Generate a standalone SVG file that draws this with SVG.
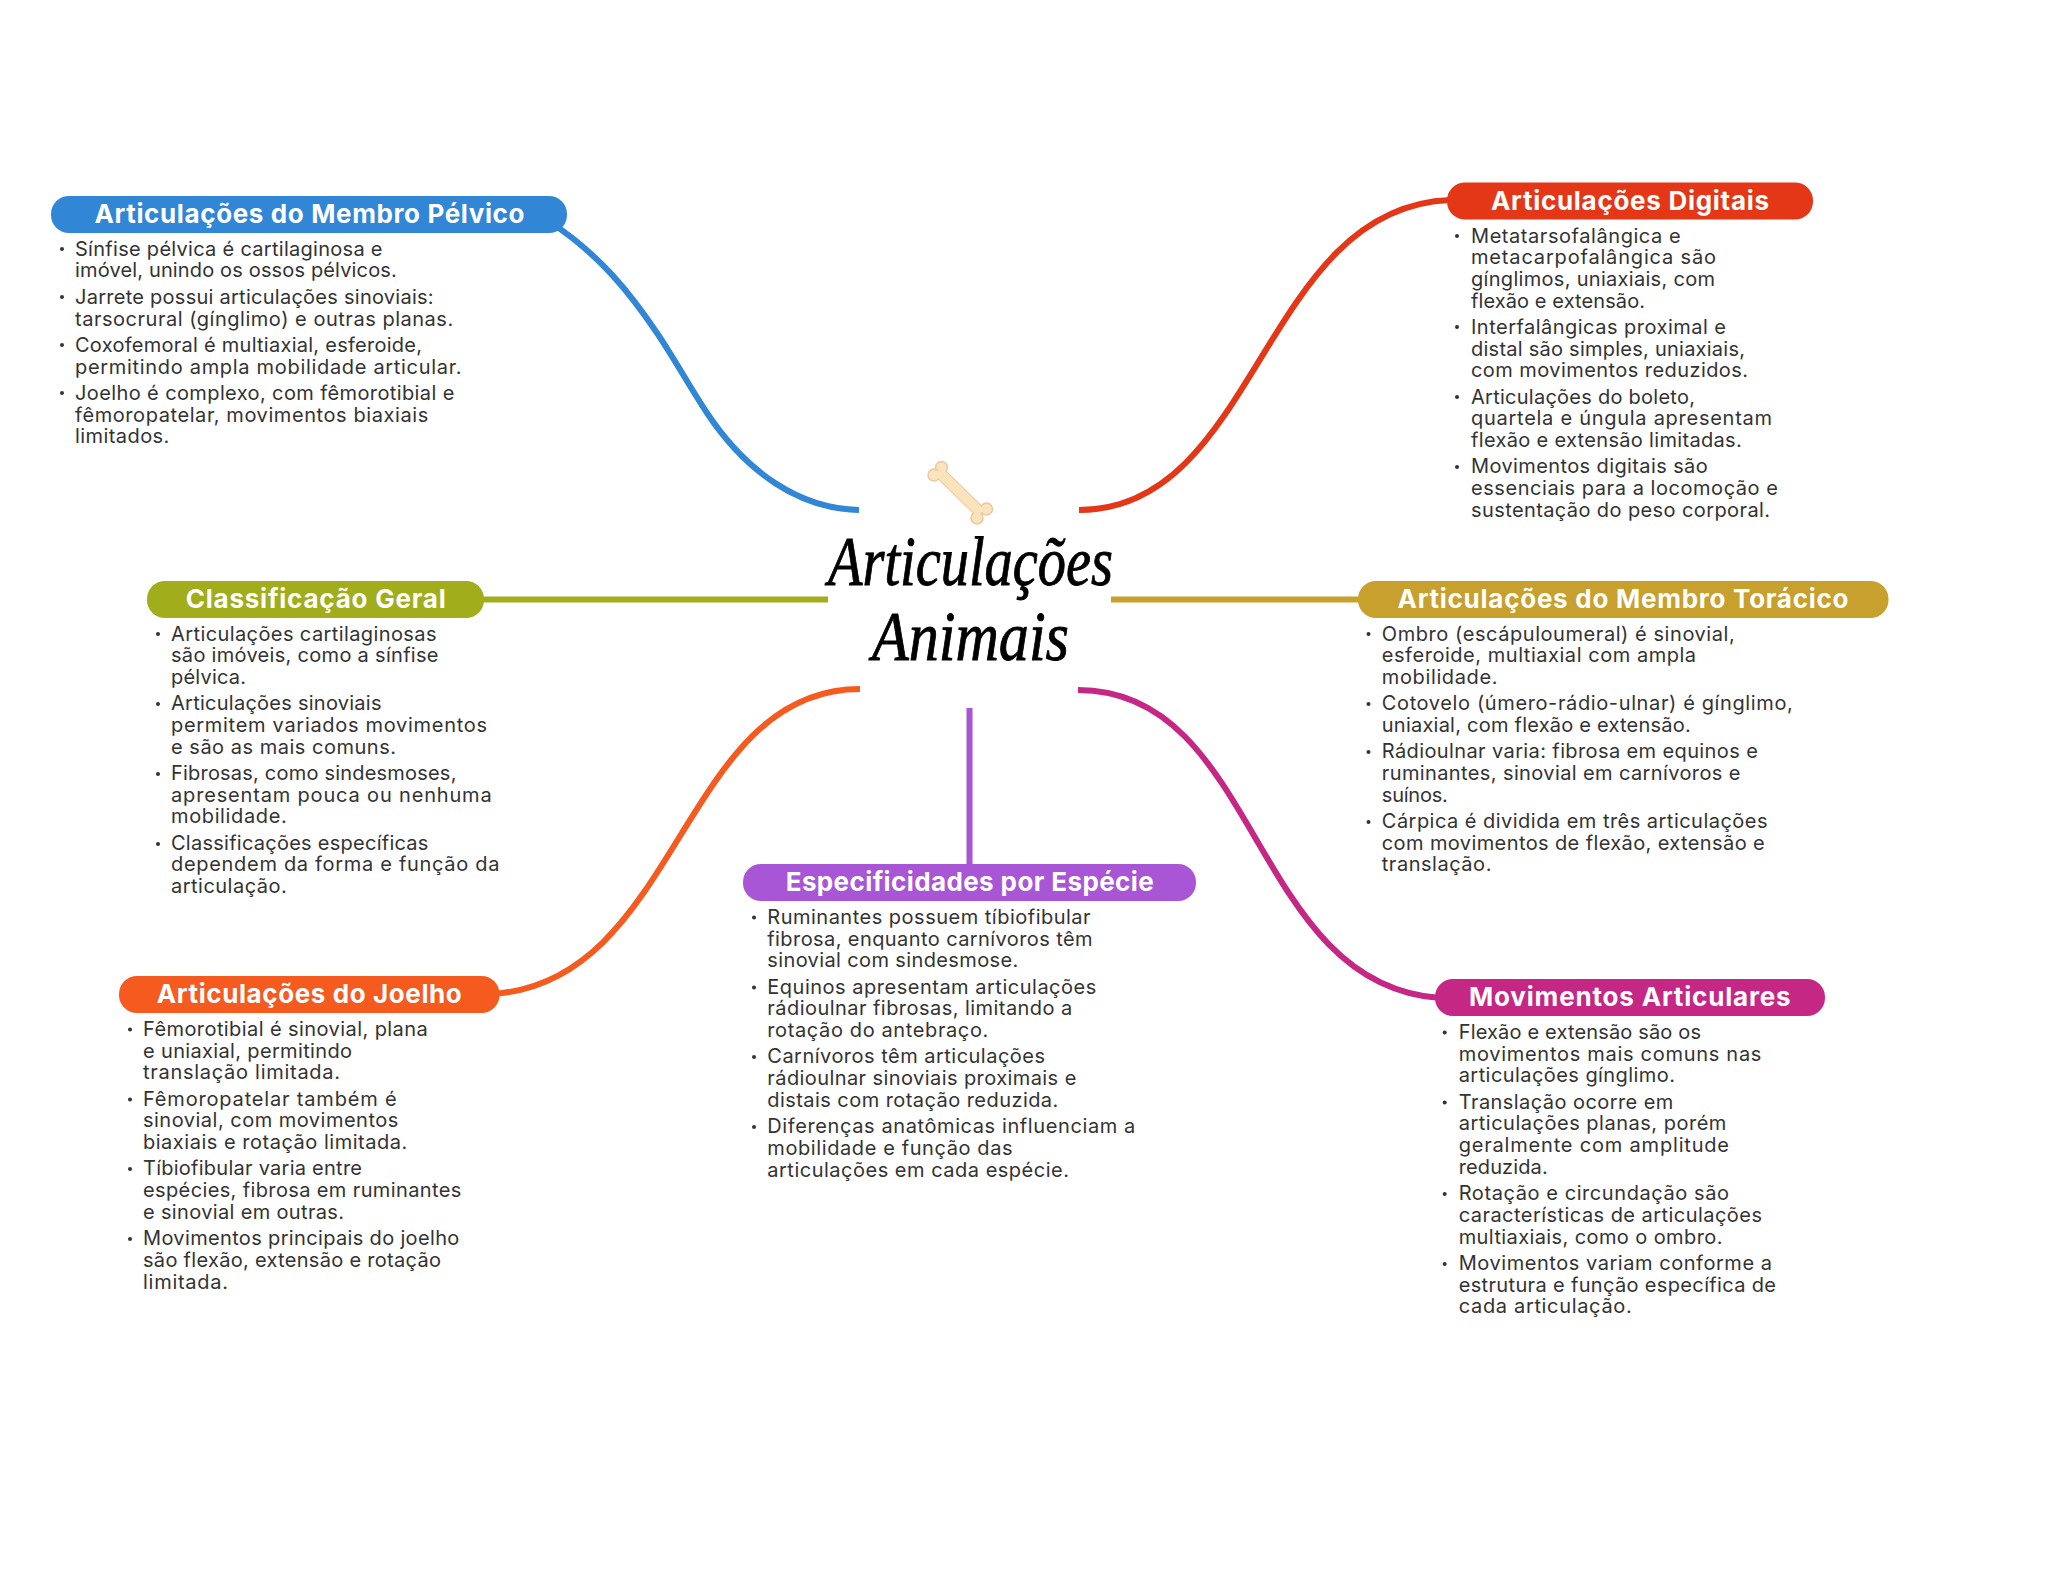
<svg xmlns="http://www.w3.org/2000/svg" width="2048" height="1569" viewBox="0 0 2048 1569">
<style>
.b{font:400 20px Inter,"Noto Sans",sans-serif;fill:#333}
.h{font:700 26px Inter,"Noto Sans",sans-serif;fill:#fff;text-anchor:middle}
.t{font:italic 400 70px "Liberation Serif",serif;fill:#000;stroke:#000;stroke-width:.9}
.c{fill:none;stroke-width:6}
.d{fill:#333}
</style>
<rect width="2048" height="1569" fill="#fff"/>
<g id="connectors">
<path class="c" stroke="#3186D6" d="M859 510C800 509 747 473 707 413C690 387.500 674 358 657 333C630 293 600 255 550 222"/>
<path class="c" stroke="#E43718" d="M1079 510C1258 510 1262 207 1450 200"/>
<path class="c" stroke="#A1AD1B" d="M828 599.5H480"/>
<path class="c" stroke="#C8A02E" d="M1111 599.5H1362"/>
<path class="c" stroke="#F55A1E" d="M860 689C680 689 680 985 490 994"/>
<path class="c" stroke="#A855D6" d="M969.5 708V868"/>
<path class="c" stroke="#C42884" d="M1078 690C1260 690 1250 985 1440 998"/>
</g>
<g id="center">
<g id="bone">
<path d="M938 471L981 513" stroke="#EBC9A0" stroke-width="12" fill="none"/>
<g fill="#FBE3BC" stroke="#EBC9A0" stroke-width="1.5"><circle cx="941.5" cy="467.5" r="6"/><circle cx="934" cy="475" r="6"/><circle cx="986.5" cy="509" r="6"/><circle cx="977" cy="518" r="6"/></g>
<path d="M938 471L981 513" stroke="#FBE3BC" stroke-width="10" fill="none"/>
</g>
<text class="t" x="828" y="585" textLength="285" lengthAdjust="spacingAndGlyphs">Articulações</text>
<text class="t" x="872" y="660" textLength="197" lengthAdjust="spacingAndGlyphs">Animais</text>
</g>
<g id="node-pelvico">
<rect x="51" y="196" width="516" height="37" rx="18" fill="#3186D6"/>
<text class="h" x="309.5" y="222.5" textLength="430">Articulações do Membro Pélvico</text>
<circle class="d" cx="62" cy="249" r="2"/><circle class="d" cx="62" cy="297" r="2"/><circle class="d" cx="62" cy="345" r="2"/><circle class="d" cx="62" cy="393" r="2"/>
<text class="b" x="75" y="255.7" textLength="307.5">Sínfise pélvica é cartilaginosa e</text>
<text class="b" x="75" y="277.4" textLength="321.8">imóvel, unindo os ossos pélvicos.</text>
<text class="b" x="75" y="304" textLength="358.6">Jarrete possui articulações sinoviais:</text>
<text class="b" x="75" y="325.7" textLength="378.2">tarsocrural (gínglimo) e outras planas.</text>
<text class="b" x="75" y="352" textLength="347">Coxofemoral é multiaxial, esferoide,</text>
<text class="b" x="75" y="373.7" textLength="386.4">permitindo ampla mobilidade articular.</text>
<text class="b" x="75" y="400" textLength="379.3">Joelho é complexo, com fêmorotibial e</text>
<text class="b" x="75" y="421.7" textLength="353.2">fêmoropatelar, movimentos biaxiais</text>
<text class="b" x="75" y="443.4" textLength="94.3">limitados.</text>
</g>
<g id="node-digitais">
<rect x="1447" y="182.5" width="366" height="37" rx="18" fill="#E43718"/>
<text class="h" x="1630" y="210.3" textLength="278">Articulações Digitais</text>
<circle class="d" cx="1457" cy="236" r="2"/><circle class="d" cx="1457" cy="327" r="2"/><circle class="d" cx="1457" cy="397" r="2"/><circle class="d" cx="1457" cy="467" r="2"/>
<text class="b" x="1471" y="242.7" textLength="209.7">Metatarsofalângica e</text>
<text class="b" x="1471" y="264.4" textLength="245">metacarpofalângica são</text>
<text class="b" x="1471" y="286" textLength="244">gínglimos, uniaxiais, com</text>
<text class="b" x="1471" y="307.7" textLength="174">flexão e extensão.</text>
<text class="b" x="1471" y="334" textLength="255">Interfalângicas proximal e</text>
<text class="b" x="1471" y="355.7" textLength="274">distal são simples, uniaxiais,</text>
<text class="b" x="1471" y="377.4" textLength="277">com movimentos reduzidos.</text>
<text class="b" x="1471" y="403.7" textLength="224">Articulações do boleto,</text>
<text class="b" x="1471" y="425.4" textLength="301">quartela e úngula apresentam</text>
<text class="b" x="1471" y="447.1" textLength="270.7">flexão e extensão limitadas.</text>
<text class="b" x="1471" y="473.4" textLength="236.7">Movimentos digitais são</text>
<text class="b" x="1471" y="495.1" textLength="307">essenciais para a locomoção e</text>
<text class="b" x="1471" y="516.8" textLength="299">sustentação do peso corporal.</text>
</g>
<g id="node-classificacao">
<rect x="147" y="581" width="337" height="37" rx="18" fill="#A1AD1B"/>
<text class="h" x="315.7" y="607.5" textLength="260">Classificação Geral</text>
<circle class="d" cx="158" cy="634" r="2"/><circle class="d" cx="158" cy="704" r="2"/><circle class="d" cx="158" cy="774" r="2"/><circle class="d" cx="158" cy="844" r="2"/>
<text class="b" x="171" y="640.7" textLength="265.5">Articulações cartilaginosas</text>
<text class="b" x="171" y="662.4" textLength="267.5">são imóveis, como a sínfise</text>
<text class="b" x="171" y="684" textLength="75">pélvica.</text>
<text class="b" x="171" y="710.3" textLength="210.5">Articulações sinoviais</text>
<text class="b" x="171" y="732" textLength="316">permitem variados movimentos</text>
<text class="b" x="171" y="753.7" textLength="225">e são as mais comuns.</text>
<text class="b" x="171" y="780" textLength="285.4">Fibrosas, como sindesmoses,</text>
<text class="b" x="171" y="801.7" textLength="320.7">apresentam pouca ou nenhuma</text>
<text class="b" x="171" y="823.4" textLength="115.7">mobilidade.</text>
<text class="b" x="171" y="849.7" textLength="257.4">Classificações específicas</text>
<text class="b" x="171" y="871.4" textLength="328.4">dependem da forma e função da</text>
<text class="b" x="171" y="893.1" textLength="115.7">articulação.</text>
</g>
<g id="node-toracico">
<rect x="1358" y="581" width="530.5" height="37" rx="18" fill="#C8A02E"/>
<text class="h" x="1623" y="607.5" textLength="451">Articulações do Membro Torácico</text>
<circle class="d" cx="1368.5" cy="634" r="2"/><circle class="d" cx="1368.5" cy="704" r="2"/><circle class="d" cx="1368.5" cy="752" r="2"/><circle class="d" cx="1368.5" cy="822" r="2"/>
<text class="b" x="1381.8" y="640.7" textLength="352.9">Ombro (escápuloumeral) é sinovial,</text>
<text class="b" x="1381.8" y="662.4" textLength="314.3">esferoide, multiaxial com ampla</text>
<text class="b" x="1381.8" y="684" textLength="115.7">mobilidade.</text>
<text class="b" x="1381.8" y="710.3" textLength="411">Cotovelo (úmero-rádio-ulnar) é gínglimo,</text>
<text class="b" x="1381.8" y="732" textLength="309">uniaxial, com flexão e extensão.</text>
<text class="b" x="1381.8" y="758.3" textLength="376">Rádioulnar varia: fibrosa em equinos e</text>
<text class="b" x="1381.8" y="780" textLength="358.6">ruminantes, sinovial em carnívoros e</text>
<text class="b" x="1381.8" y="801.7" textLength="66">suínos.</text>
<text class="b" x="1381.8" y="828" textLength="385.7">Cárpica é dividida em três articulações</text>
<text class="b" x="1381.8" y="849.7" textLength="382.9">com movimentos de flexão, extensão e</text>
<text class="b" x="1381.8" y="871.4" textLength="109.6">translação.</text>
</g>
<g id="node-especie">
<rect x="743" y="864" width="453" height="37" rx="18" fill="#A855D6"/>
<text class="h" x="969.7" y="890.7" textLength="368">Especificidades por Espécie</text>
<circle class="d" cx="754" cy="917.5" r="2"/><circle class="d" cx="754" cy="987.5" r="2"/><circle class="d" cx="754" cy="1057" r="2"/><circle class="d" cx="754" cy="1127" r="2"/>
<text class="b" x="767.3" y="924" textLength="323.3">Ruminantes possuem tíbiofibular</text>
<text class="b" x="767.3" y="945.7" textLength="325.3">fibrosa, enquanto carnívoros têm</text>
<text class="b" x="767.3" y="967.4" textLength="251">sinovial com sindesmose.</text>
<text class="b" x="767.3" y="993.7" textLength="329">Equinos apresentam articulações</text>
<text class="b" x="767.3" y="1015.4" textLength="305">rádioulnar fibrosas, limitando a</text>
<text class="b" x="767.3" y="1037.1" textLength="221">rotação do antebraço.</text>
<text class="b" x="767.3" y="1063.4" textLength="277.7">Carnívoros têm articulações</text>
<text class="b" x="767.3" y="1085.1" textLength="309">rádioulnar sinoviais proximais e</text>
<text class="b" x="767.3" y="1106.8" textLength="291">distais com rotação reduzida.</text>
<text class="b" x="767.3" y="1133.1" textLength="368">Diferenças anatômicas influenciam a</text>
<text class="b" x="767.3" y="1154.8" textLength="245.3">mobilidade e função das</text>
<text class="b" x="767.3" y="1176.5" textLength="301.7">articulações em cada espécie.</text>
</g>
<g id="node-joelho">
<rect x="119" y="976" width="380.5" height="37" rx="18" fill="#F55A1E"/>
<text class="h" x="309.3" y="1003.3" textLength="305">Articulações do Joelho</text>
<circle class="d" cx="130" cy="1029.5" r="2"/><circle class="d" cx="130" cy="1099.5" r="2"/><circle class="d" cx="130" cy="1169" r="2"/><circle class="d" cx="130" cy="1239" r="2"/>
<text class="b" x="143" y="1036" textLength="284.7">Fêmorotibial é sinovial, plana</text>
<text class="b" x="143" y="1057.7" textLength="209">e uniaxial, permitindo</text>
<text class="b" x="143" y="1079.4" textLength="197">translação limitada.</text>
<text class="b" x="143" y="1105.7" textLength="253.7">Fêmoropatelar também é</text>
<text class="b" x="143" y="1127.4" textLength="255.3">sinovial, com movimentos</text>
<text class="b" x="143" y="1149.1" textLength="264.3">biaxiais e rotação limitada.</text>
<text class="b" x="143" y="1175.4" textLength="219">Tíbiofibular varia entre</text>
<text class="b" x="143" y="1197.1" textLength="318.3">espécies, fibrosa em ruminantes</text>
<text class="b" x="143" y="1218.8" textLength="201">e sinovial em outras.</text>
<text class="b" x="143" y="1245.1" textLength="316.3">Movimentos principais do joelho</text>
<text class="b" x="143" y="1266.8" textLength="298">são flexão, extensão e rotação</text>
<text class="b" x="143" y="1288.5" textLength="85">limitada.</text>
</g>
<g id="node-movimentos">
<rect x="1435" y="979" width="390" height="37" rx="18" fill="#C42884"/>
<text class="h" x="1629.8" y="1006.3" textLength="321.7">Movimentos Articulares</text>
<circle class="d" cx="1444.7" cy="1032.5" r="2"/><circle class="d" cx="1444.7" cy="1102.5" r="2"/><circle class="d" cx="1444.7" cy="1194" r="2"/><circle class="d" cx="1444.7" cy="1264" r="2"/>
<text class="b" x="1458.7" y="1039" textLength="242.3">Flexão e extensão são os</text>
<text class="b" x="1458.7" y="1060.7" textLength="302.7">movimentos mais comuns nas</text>
<text class="b" x="1458.7" y="1082.4" textLength="216.3">articulações gínglimo.</text>
<text class="b" x="1458.7" y="1108.7" textLength="214.7">Translação ocorre em</text>
<text class="b" x="1458.7" y="1130.4" textLength="267.7">articulações planas, porém</text>
<text class="b" x="1458.7" y="1152.1" textLength="270.3">geralmente com amplitude</text>
<text class="b" x="1458.7" y="1173.8" textLength="89">reduzida.</text>
<text class="b" x="1458.7" y="1200.1" textLength="270.3">Rotação e circundação são</text>
<text class="b" x="1458.7" y="1221.8" textLength="303.3">características de articulações</text>
<text class="b" x="1458.7" y="1243.5" textLength="263.7">multiaxiais, como o ombro.</text>
<text class="b" x="1458.7" y="1269.8" textLength="313.3">Movimentos variam conforme a</text>
<text class="b" x="1458.7" y="1291.5" textLength="317.3">estrutura e função específica de</text>
<text class="b" x="1458.7" y="1313.2" textLength="173">cada articulação.</text>
</g>
</svg>
